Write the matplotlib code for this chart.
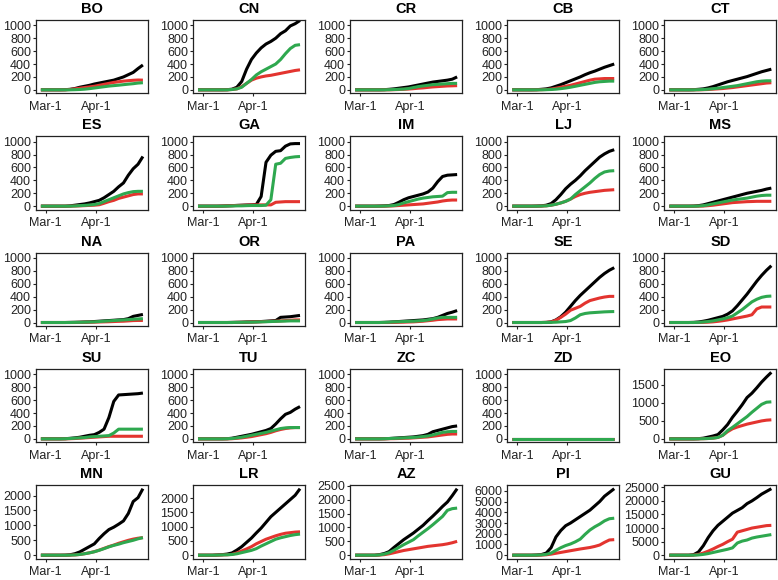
#!/usr/bin/env python3
"""
Small multiples: cumulative counts per area (black / red / green), 5 x 5 grid.
"""
import matplotlib
matplotlib.use("Agg")
import matplotlib.pyplot as plt
import pandas as pd

# ---------------------------------------------------------------------------
# data (sampled every 3 days, Feb-27 .. Apr-30)
# ---------------------------------------------------------------------------
DATES = pd.date_range("2020-02-27", "2020-04-30", freq="3D")
XTICKS = pd.to_datetime(["2020-03-01", "2020-04-01"])
XTICK_LABELS = ["Mar-1", "Apr-1"]

BO_K = [0, 0, 0, 0, 0, 2, 8, 20, 40, 55, 70, 90, 105, 120, 135, 150, 175, 200, 235, 270, 330, 385]
BO_R = [0, 0, 0, 0, 0, 0, 5, 15, 25, 35, 45, 55, 70, 85, 100, 115, 125, 135, 142, 148, 152, 150]
BO_G = [0, 0, 0, 0, 0, 0, 0, 2, 5, 10, 18, 28, 38, 48, 58, 65, 72, 80, 88, 95, 105, 110]

CN_K = [0, 0, 0, 0, 0, 0, 2, 10, 40, 130, 320, 470, 570, 650, 710, 750, 800, 870, 915, 990, 1025, 1075]
CN_R = [0, 0, 0, 0, 0, 0, 0, 5, 15, 50, 100, 150, 180, 200, 215, 225, 240, 255, 270, 285, 300, 310]
CN_G = [0, 0, 0, 0, 0, 0, 0, 5, 15, 40, 100, 160, 230, 280, 320, 360, 400, 470, 560, 640, 690, 700]

CR_K = [0, 0, 0, 0, 0, 0, 2, 8, 15, 25, 35, 45, 60, 75, 90, 105, 120, 130, 140, 150, 165, 200]
CR_R = [0, 0, 0, 0, 0, 0, 0, 0, 2, 5, 8, 12, 18, 25, 30, 38, 45, 50, 55, 60, 62, 65]
CR_G = [0, 0, 0, 0, 0, 0, 0, 2, 5, 8, 12, 20, 35, 50, 60, 70, 80, 85, 90, 95, 100, 100]

CB_K = [0, 0, 0, 0, 0, 2, 8, 15, 30, 55, 80, 110, 140, 170, 200, 235, 265, 290, 320, 350, 375, 400]
CB_R = [0, 0, 0, 0, 0, 0, 2, 5, 12, 25, 40, 55, 70, 90, 110, 130, 150, 165, 170, 175, 175, 175]
CB_G = [0, 0, 0, 0, 0, 0, 0, 2, 5, 10, 18, 28, 40, 55, 70, 85, 100, 115, 125, 130, 135, 135]

CT_K = [0, 0, 0, 0, 0, 2, 8, 15, 30, 50, 75, 100, 125, 145, 165, 185, 205, 230, 255, 280, 300, 320]
CT_R = [0, 0, 0, 0, 0, 0, 0, 2, 5, 10, 15, 20, 28, 35, 45, 55, 65, 75, 85, 95, 105, 110]
CT_G = [0, 0, 0, 0, 0, 0, 2, 5, 10, 18, 25, 35, 45, 55, 65, 80, 95, 110, 125, 135, 140, 140]

ES_K = [0, 0, 0, 0, 0, 0, 5, 15, 25, 35, 50, 70, 90, 130, 180, 230, 300, 360, 480, 580, 650, 770]
ES_R = [0, 0, 0, 0, 0, 0, 0, 2, 5, 8, 12, 15, 22, 45, 70, 90, 120, 140, 160, 180, 190, 190]
ES_G = [0, 0, 0, 0, 0, 0, 0, 3, 8, 12, 18, 25, 40, 70, 100, 130, 160, 190, 210, 225, 230, 230]

GA_K = [0, 0, 0, 0, 0, 2, 5, 8, 12, 15, 18, 20, 25, 150, 680, 790, 850, 860, 930, 965, 970, 970]
GA_R = [0, 0, 0, 0, 0, 2, 5, 8, 10, 12, 15, 18, 20, 20, 20, 20, 60, 65, 70, 70, 70, 70]
GA_G = [0, 0, 0, 0, 0, 0, 2, 3, 5, 5, 8, 10, 10, 10, 15, 100, 650, 665, 740, 755, 765, 770]

IM_K = [0, 0, 0, 0, 0, 2, 5, 10, 25, 60, 100, 130, 150, 170, 190, 220, 280, 380, 460, 480, 485, 490]
IM_R = [0, 0, 0, 0, 0, 0, 0, 2, 5, 10, 15, 20, 25, 30, 35, 45, 55, 65, 80, 90, 95, 95]
IM_G = [0, 0, 0, 0, 0, 0, 2, 5, 10, 25, 50, 70, 90, 110, 125, 135, 145, 150, 155, 210, 215, 215]

LJ_K = [0, 0, 0, 0, 0, 2, 5, 15, 40, 100, 180, 270, 340, 400, 470, 550, 620, 690, 760, 810, 850, 875]
LJ_R = [0, 0, 0, 0, 0, 0, 2, 5, 15, 30, 50, 75, 110, 150, 180, 200, 215, 225, 235, 245, 250, 255]
LJ_G = [0, 0, 0, 0, 0, 0, 2, 5, 15, 30, 50, 75, 110, 180, 240, 300, 360, 430, 490, 530, 545, 550]

MS_K = [0, 0, 0, 0, 0, 2, 8, 20, 40, 60, 80, 100, 120, 140, 160, 180, 200, 215, 230, 245, 265, 280]
MS_R = [0, 0, 0, 0, 0, 0, 0, 2, 8, 15, 25, 35, 45, 55, 60, 65, 70, 72, 75, 75, 75, 75]
MS_G = [0, 0, 0, 0, 0, 0, 2, 8, 20, 35, 50, 65, 80, 95, 105, 115, 125, 140, 155, 165, 170, 170]

NA_K = [0, 0, 0, 0, 0, 0, 2, 3, 5, 8, 10, 15, 20, 25, 30, 35, 40, 45, 60, 95, 110, 125]
NA_R = [0, 0, 0, 0, 0, 0, 0, 0, 2, 3, 5, 5, 8, 10, 12, 15, 18, 20, 25, 30, 32, 32]
NA_G = [0, 0, 0, 0, 0, 0, 0, 2, 3, 5, 8, 10, 15, 20, 25, 30, 35, 40, 45, 50, 55, 60]

OR_K = [0, 0, 0, 0, 0, 0, 0, 2, 3, 5, 8, 10, 12, 15, 20, 25, 30, 80, 85, 90, 100, 110]
OR_R = [0, 0, 0, 0, 0, 0, 0, 0, 2, 3, 5, 8, 10, 12, 15, 18, 20, 25, 30, 35, 40, 40]
OR_G = [0, 0, 0, 0, 0, 0, 0, 0, 2, 3, 5, 5, 8, 10, 12, 15, 18, 20, 22, 25, 25, 25]

PA_K = [0, 0, 0, 0, 0, 0, 2, 5, 10, 15, 20, 25, 30, 35, 40, 50, 60, 80, 110, 140, 160, 185]
PA_R = [0, 0, 0, 0, 0, 0, 0, 0, 2, 3, 5, 8, 10, 15, 20, 28, 35, 45, 50, 55, 55, 55]
PA_G = [0, 0, 0, 0, 0, 0, 2, 5, 10, 12, 15, 18, 20, 25, 30, 40, 55, 70, 80, 80, 80, 80]

SE_K = [0, 0, 0, 0, 0, 0, 0, 2, 10, 40, 90, 160, 250, 340, 420, 490, 560, 630, 700, 760, 810, 850]
SE_R = [0, 0, 0, 0, 0, 0, 0, 2, 8, 35, 80, 130, 190, 220, 250, 300, 340, 360, 380, 395, 405, 405]
SE_G = [0, 0, 0, 0, 0, 0, 0, 0, 2, 5, 10, 15, 30, 70, 120, 140, 150, 155, 160, 165, 168, 170]

SD_K = [0, 0, 0, 0, 0, 2, 8, 20, 35, 55, 75, 95, 130, 180, 260, 350, 440, 540, 640, 730, 810, 880]
SD_R = [0, 0, 0, 0, 0, 0, 0, 2, 5, 10, 18, 28, 40, 55, 70, 85, 100, 120, 210, 240, 240, 240]
SD_G = [0, 0, 0, 0, 0, 0, 2, 8, 15, 25, 40, 55, 75, 100, 150, 200, 260, 320, 360, 390, 405, 410]

SU_K = [0, 0, 0, 0, 0, 2, 8, 15, 25, 40, 55, 65, 100, 150, 330, 580, 680, 685, 690, 695, 700, 710]
SU_R = [0, 0, 0, 0, 0, 0, 2, 5, 10, 15, 20, 25, 30, 35, 40, 40, 40, 40, 40, 40, 40, 40]
SU_G = [0, 0, 0, 0, 0, 2, 5, 10, 15, 20, 30, 35, 40, 45, 50, 90, 150, 150, 150, 150, 150, 150]

TU_K = [0, 0, 0, 0, 0, 0, 2, 10, 25, 40, 55, 70, 90, 110, 130, 160, 230, 310, 380, 410, 460, 500]
TU_R = [0, 0, 0, 0, 0, 0, 0, 2, 8, 15, 25, 35, 50, 65, 80, 100, 125, 145, 160, 170, 175, 175]
TU_G = [0, 0, 0, 0, 0, 0, 2, 5, 15, 25, 40, 55, 70, 85, 100, 120, 140, 160, 170, 175, 175, 175]

ZC_K = [0, 0, 0, 0, 0, 0, 2, 5, 10, 15, 20, 25, 30, 40, 50, 70, 110, 130, 150, 170, 190, 200]
ZC_R = [0, 0, 0, 0, 0, 0, 0, 2, 3, 5, 8, 10, 15, 20, 25, 30, 40, 50, 60, 70, 75, 75]
ZC_G = [0, 0, 0, 0, 0, 0, 2, 5, 8, 10, 15, 18, 22, 28, 35, 45, 60, 80, 100, 110, 115, 115]

ZD_K = [0] * 22
ZD_R = [0] * 22
ZD_G = [0] * 22

EO_K = [0, 0, 0, 0, 0, 0, 5, 20, 50, 80, 120, 250, 400, 600, 770, 950, 1150, 1270, 1420, 1580, 1720, 1850]
EO_R = [0, 0, 0, 0, 0, 0, 2, 5, 10, 20, 40, 100, 200, 280, 330, 370, 410, 440, 470, 500, 520, 530]
EO_G = [0, 0, 0, 0, 0, 0, 2, 5, 10, 20, 40, 100, 230, 320, 420, 520, 620, 740, 850, 960, 1020, 1030]

MN_K = [0, 0, 0, 0, 0, 3, 15, 50, 110, 200, 290, 380, 560, 720, 860, 940, 1040, 1150, 1400, 1800, 1930, 2230]
MN_R = [0, 0, 0, 0, 0, 0, 3, 10, 25, 50, 80, 120, 170, 230, 290, 340, 400, 450, 500, 540, 570, 590]
MN_G = [0, 0, 0, 0, 0, 0, 3, 10, 25, 50, 80, 115, 165, 220, 280, 330, 370, 420, 460, 500, 550, 590]

LR_K = [0, 0, 0, 0, 10, 20, 40, 80, 180, 300, 450, 600, 780, 950, 1150, 1350, 1500, 1650, 1800, 1950, 2100, 2330]
LR_R = [0, 0, 0, 0, 5, 10, 15, 30, 80, 150, 220, 300, 400, 480, 560, 620, 680, 730, 770, 790, 810, 820]
LR_G = [0, 0, 0, 0, 5, 10, 15, 25, 50, 90, 130, 170, 230, 320, 400, 480, 560, 610, 650, 690, 720, 740]

AZ_K = [0, 0, 0, 0, 0, 20, 60, 130, 280, 420, 560, 680, 800, 940, 1080, 1250, 1410, 1580, 1760, 1920, 2150, 2400]
AZ_R = [0, 0, 0, 0, 0, 5, 20, 50, 90, 130, 170, 200, 230, 260, 290, 320, 340, 360, 380, 410, 450, 500]
AZ_G = [0, 0, 0, 0, 0, 10, 40, 90, 180, 280, 380, 470, 560, 700, 830, 960, 1100, 1250, 1400, 1620, 1680, 1700]

PI_K = [0, 0, 0, 0, 0, 20, 60, 200, 700, 1700, 2300, 2750, 3000, 3300, 3600, 3900, 4200, 4600, 5000, 5500, 5850, 6200]
PI_R = [0, 0, 0, 0, 0, 0, 10, 40, 100, 180, 260, 340, 420, 500, 580, 650, 720, 820, 950, 1200, 1420, 1450]
PI_G = [0, 0, 0, 0, 0, 10, 30, 80, 200, 450, 700, 900, 1050, 1250, 1500, 1950, 2350, 2650, 2900, 3200, 3400, 3450]

GU_K = [0, 0, 0, 0, 0, 200, 1200, 3500, 6500, 9000, 11000, 12500, 14000, 15500, 16500, 17500, 19000, 20000, 21200, 22500, 23500, 24500]
GU_R = [0, 0, 0, 0, 0, 50, 300, 800, 1500, 2300, 3200, 4000, 5000, 5900, 8500, 9000, 9500, 10000, 10300, 10600, 10900, 11000]
GU_G = [0, 0, 0, 0, 0, 20, 100, 300, 600, 1000, 1400, 1800, 2200, 2700, 4500, 5200, 5600, 6300, 6700, 7000, 7300, 7600]

PANELS = [
    ("BO", BO_K, BO_R, BO_G), ("CN", CN_K, CN_R, CN_G), ("CR", CR_K, CR_R, CR_G),
    ("CB", CB_K, CB_R, CB_G), ("CT", CT_K, CT_R, CT_G),
    ("ES", ES_K, ES_R, ES_G), ("GA", GA_K, GA_R, GA_G), ("IM", IM_K, IM_R, IM_G),
    ("LJ", LJ_K, LJ_R, LJ_G), ("MS", MS_K, MS_R, MS_G),
    ("NA", NA_K, NA_R, NA_G), ("OR", OR_K, OR_R, OR_G), ("PA", PA_K, PA_R, PA_G),
    ("SE", SE_K, SE_R, SE_G), ("SD", SD_K, SD_R, SD_G),
    ("SU", SU_K, SU_R, SU_G), ("TU", TU_K, TU_R, TU_G), ("ZC", ZC_K, ZC_R, ZC_G),
    ("ZD", ZD_K, ZD_R, ZD_G), ("EO", EO_K, EO_R, EO_G),
    ("MN", MN_K, MN_R, MN_G), ("LR", LR_K, LR_R, LR_G), ("AZ", AZ_K, AZ_R, AZ_G),
    ("PI", PI_K, PI_R, PI_G), ("GU", GU_K, GU_R, GU_G),
]

# y ticks for the panels that do not use the common 0-1000 scale
YTICKS = {
    "EO": [0, 500, 1000, 1500],
    "MN": [0, 500, 1000, 1500, 2000],
    "LR": [0, 500, 1000, 1500, 2000],
    "AZ": [0, 500, 1000, 1500, 2000, 2500],
    "PI": [0, 1000, 2000, 3000, 4000, 5000, 6000],
    "GU": [0, 5000, 10000, 15000, 20000, 25000],
}
COMMON_TICKS = [0, 200, 400, 600, 800, 1000]

BLACK, RED, GREEN = "#000000", "#e3342f", "#2ea84f"

plt.rcParams["font.family"] = ["Liberation Sans", "DejaVu Sans"]

fig, axes = plt.subplots(5, 5, figsize=(7.78, 5.8), dpi=100)
fig.subplots_adjust(left=0.046, right=0.998, top=0.9655, bottom=0.037,
                    wspace=0.40, hspace=0.59)

for ax, (name, k, r, g) in zip(axes.flat, PANELS):
    ax.plot(DATES, k, color=BLACK, lw=2.2, solid_capstyle="butt")
    ax.plot(DATES, r, color=RED, lw=2.2, solid_capstyle="butt")
    ax.plot(DATES, g, color=GREEN, lw=2.2, solid_capstyle="butt")

    ax.set_title(name, fontsize=10.5, fontweight="bold", pad=5)
    ax.set_xticks(XTICKS)
    ax.set_xticklabels(XTICK_LABELS)

    if name in YTICKS:
        top = max(k + r + g)
        ax.set_ylim(-0.05 * top, 1.05 * top)
        ax.set_yticks(YTICKS[name])
    else:
        ax.set_ylim(-52, 1082)
        ax.set_yticks(COMMON_TICKS)

    ax.tick_params(axis="both", labelsize=9, colors="#222222", length=2.5, width=0.8)
    ax.tick_params(axis="y", pad=1)
    ax.tick_params(axis="x", pad=3)
    for sp in ax.spines.values():
        sp.set_linewidth(0.9)
        sp.set_color("#222222")

plt.savefig("out.png", dpi=100)
